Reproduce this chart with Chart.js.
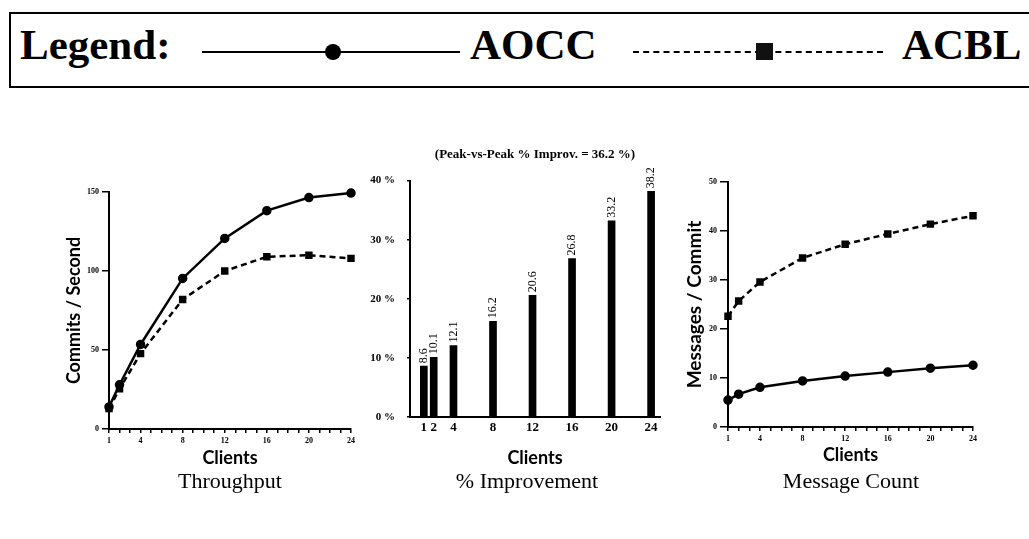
<!DOCTYPE html>
<html>
<head>
<meta charset="utf-8">
<script src="https://cdn.jsdelivr.net/npm/chart.js@4"></script>
<style>
  body { margin: 0; background: #fff; width: 1029px; height: 539px; overflow: hidden; position: relative; }
  canvas { position: absolute; }
  .legend { position: absolute; left: 9px; top: 12px; width: 1040px; height: 76px; border: 2px solid #000; box-sizing: border-box; }
  .lg { position: absolute; font-family: 'Liberation Serif', serif; font-weight: bold; font-size: 43px; color: #000; line-height: 1; }
  .solid { position: absolute; height: 0; border-top: 2px solid #000; }
  .dashed { position: absolute; height: 0; border-top: 2px dashed #000; }
  .dot { position: absolute; width: 16px; height: 16px; border-radius: 50%; background: #000; }
  .sq { position: absolute; width: 17px; height: 17px; background: #111; }
  .caption { position: absolute; font-family: 'Liberation Serif', serif; font-size: 22px; color: #000; transform: translateX(-50%); white-space: nowrap; }
</style>
</head>
<body>

<div class="legend"></div>
<div class="lg" style="left:20px; top:23px;">Legend:</div>
<div class="solid" style="left:202px; top:51px; width:258px;"></div>
<div class="dot" style="left:325px; top:44px;"></div>
<div class="lg" style="left:470px; top:23px;">AOCC</div>
<div class="dashed" style="left:633px; top:51px; width:250px;"></div>
<div class="sq" style="left:756px; top:43px;"></div>
<div class="lg" style="left:902px; top:23px;">ACBL</div>

<canvas id="throughput" style="left:40px; top:175px;" width="330" height="320"></canvas>
<canvas id="improvement" style="left:370px; top:140px;" width="316" height="355"></canvas>
<canvas id="messages" style="left:670px; top:165px;" width="330" height="330"></canvas>

<div class="caption" style="left:230px; top:468px;">Throughput</div>
<div class="caption" style="left:527px; top:468px;">% Improvement</div>
<div class="caption" style="left:851px; top:468px;">Message Count</div>

<script>
const clients = [1, 2, 4, 8, 12, 16, 20, 24];
const clientTickLabels = [1, 4, 8, 12, 16, 20, 24];

const aoccThroughput = [14, 28, 53.5, 95.3, 120.6, 138.2, 146.5, 149.3];
const acblThroughput = [12.9, 25.4, 47.7, 82, 100, 109, 110, 108];
const throughputTicks = [0, 50, 100, 150];

const improvement = [8.6, 10.1, 12.1, 16.2, 20.6, 26.8, 33.2, 38.2];
const improvementTicks = [0, 10, 20, 30, 40];

const aoccMessages = [5.5, 6.7, 8.1, 9.4, 10.4, 11.2, 12.0, 12.6];
const acblMessages = [22.6, 25.7, 29.6, 34.5, 37.3, 39.4, 41.4, 43.1];
const messageTicks = [0, 10, 20, 30, 40, 50];

const serif = "'Liberation Serif', serif";
const sans = "Lato, 'DejaVu Sans', sans-serif";

function points(ys) {
  return clients.map((c, i) => ({ x: c, y: ys[i] }));
}

function lineChart(id, aocc, acbl, yMax, yTicks, yTitle, box) {
  const ctx = document.getElementById(id).getContext('2d');
  return new Chart(ctx, {
    type: 'line',
    data: {
      datasets: [{
        label: 'AOCC',
        data: points(aocc),
        borderColor: '#000',
        backgroundColor: '#000',
        borderWidth: 2.5,
        pointStyle: 'circle',
        pointRadius: box.pr,
        clip: false
      }, {
        label: 'ACBL',
        data: points(acbl),
        borderColor: '#000',
        backgroundColor: '#000',
        borderWidth: 2.5,
        borderDash: [6, 4],
        pointStyle: 'rect',
        pointRadius: box.pr,
        clip: false
      }]
    },
    options: {
      responsive: false,
      animation: false,
      layout: { padding: { left: 0, right: box.padR, top: box.padT, bottom: 0 } },
      plugins: { legend: { display: false }, tooltip: { enabled: false } },
      scales: {
        x: {
          type: 'linear',
          min: 1,
          max: 24,
          afterFit: (s) => { s.height = box.xh; },
          border: { color: '#000', width: 2 },
          grid: { drawOnChartArea: false, color: '#000', tickLength: 4, lineWidth: 1.5 },
          ticks: {
            stepSize: 1,
            autoSkip: false,
            maxRotation: 0,
            padding: 3,
            color: '#000',
            font: { family: serif, size: 8, weight: 'bold' },
            callback: (v) => clientTickLabels.includes(v) ? String(v) : ''
          },
          title: {
            display: true,
            text: 'Clients',
            color: '#000',
            font: { family: sans, size: 18, weight: 'bold', lineHeight: 1 },
            padding: { top: 0, bottom: box.xtPad }
          }
        },
        y: {
          min: 0,
          max: yMax,
          afterFit: (s) => { s.width = box.yw; },
          afterBuildTicks: (s) => { s.ticks = yTicks.map(v => ({ value: v })); },
          border: { color: '#000', width: 2 },
          grid: { drawOnChartArea: false, color: '#000', tickLength: box.yTick, lineWidth: 1.5 },
          ticks: {
            padding: 3,
            color: '#000',
            font: { family: serif, size: 8, weight: 'bold' }
          },
          title: {
            display: true,
            text: yTitle,
            color: '#000',
            font: { family: sans, size: box.ytSize, weight: 'bold', lineHeight: 1 },
            padding: { top: box.ytPad, bottom: 0 }
          }
        }
      }
    }
  });
}

lineChart('throughput', aoccThroughput, acblThroughput, 150, throughputTicks, 'Commits / Second',
  { padR: 19, padT: 17, xh: 66, yw: 69, xtPad: 28, ytPad: 25, yTick: 7, pr: 3.5, ytSize: 18 });

lineChart('messages', aoccMessages, acblMessages, 50, messageTicks, 'Messages / Commit',
  { padR: 27, padT: 17, xh: 68, yw: 58, xtPad: 31, ytPad: 15, yTick: 8, pr: 3.5, ytSize: 19 });

// value labels written vertically above each bar
const barLabels = {
  id: 'barLabels',
  afterDatasetsDraw(chart) {
    const ctx = chart.ctx;
    const meta = chart.getDatasetMeta(0);
    ctx.save();
    ctx.fillStyle = '#000';
    ctx.font = '12px ' + serif;
    ctx.textAlign = 'left';
    ctx.textBaseline = 'middle';
    meta.data.forEach((bar, i) => {
      ctx.save();
      ctx.translate(bar.x, bar.y - 3);
      ctx.rotate(-Math.PI / 2);
      ctx.fillText(improvement[i].toFixed(1), 0, 0);
      ctx.restore();
    });
    ctx.restore();
  }
};

new Chart(document.getElementById('improvement').getContext('2d'), {
  type: 'bar',
  data: {
    datasets: [{
      data: points(improvement),
      backgroundColor: '#000',
      barThickness: 7
    }]
  },
  options: {
    responsive: false,
    animation: false,
    layout: { padding: { left: 0, right: 26, top: 0, bottom: 0 } },
    plugins: {
      legend: { display: false },
      tooltip: { enabled: false },
      title: {
        display: true,
        fullSize: false,
        text: '(Peak-vs-Peak % Improv. = 36.2 %)',
        color: '#000',
        font: { family: serif, size: 13, weight: 'bold', lineHeight: 1.2 },
        padding: { top: 7, bottom: 18 }
      }
    },
    scales: {
      x: {
        type: 'linear',
        min: -0.4,
        max: 24.9,
        offset: false,
        afterFit: (s) => { s.height = 78; },
        afterBuildTicks: (s) => { s.ticks = clients.map(v => ({ value: v })); },
        border: { color: '#000', width: 2 },
        grid: { display: true, drawOnChartArea: false, drawTicks: false, offset: false },
        ticks: {
          autoSkip: false,
          maxRotation: 0,
          padding: 3,
          color: '#000',
          font: { family: serif, size: 13, weight: 'bold' }
        },
        title: {
          display: true,
          text: 'Clients',
          color: '#000',
          font: { family: sans, size: 18, weight: 'bold', lineHeight: 1 },
          padding: { top: 0, bottom: 28 }
        }
      },
      y: {
        min: 0,
        max: 40,
        afterFit: (s) => { s.width = 40; },
        afterBuildTicks: (s) => { s.ticks = improvementTicks.map(v => ({ value: v })); },
        border: { color: '#000', width: 2 },
        grid: { drawOnChartArea: false, color: '#000', tickLength: 3, lineWidth: 1.5 },
        ticks: {
          padding: 12,
          color: '#000',
          font: { family: serif, size: 11, weight: 'bold' },
          callback: (v) => v + ' %'
        }
      }
    }
  },
  plugins: [barLabels]
});
</script>
</body>
</html>
